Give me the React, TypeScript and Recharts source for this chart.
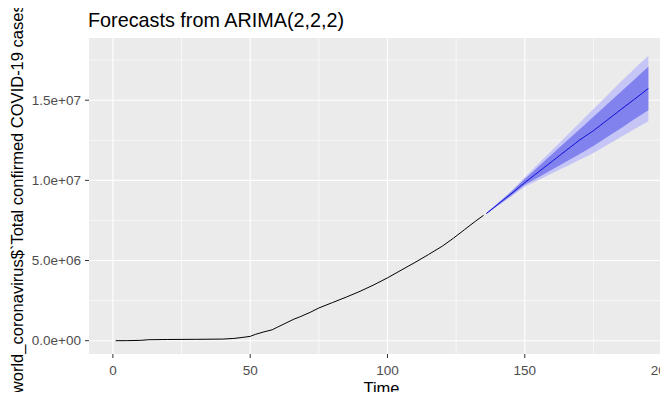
import {
  ComposedChart,
  Line,
  Area,
  XAxis,
  YAxis,
  CartesianGrid,
} from "recharts";

// ARIMA(2,2,2) forecast of world confirmed cases, styled after ggplot's autoplot

const FONT = '"Liberation Sans", Arial, sans-serif';

// observed series
const histTime = [1, 5, 10, 13, 20, 30, 40, 44, 47, 50, 52, 55, 58, 60, 63, 66, 68, 72, 75, 80, 85, 90, 95, 100, 105, 110, 115, 120, 124, 128, 132, 135];
const histCases = [
  0.0006e6, 0.003e6, 0.02e6, 0.06e6, 0.075e6, 0.085e6, 0.1e6, 0.14e6, 0.2e6, 0.27e6,
  0.4e6, 0.55e6, 0.68e6, 0.85e6, 1.1e6, 1.35e6, 1.48e6, 1.78e6, 2.04e6, 2.38e6,
  2.72e6, 3.08e6, 3.48e6, 3.92e6, 4.4e6, 4.88e6, 5.38e6, 5.9e6, 6.39e6, 6.92e6,
  7.45e6, 7.82e6,
];

// forecast, point + 80% / 95% intervals
const fcTime = [136, 140, 145, 150, 155, 160, 165, 170, 175, 180, 185, 190, 195];
const fcMean = [7.93e6, 8.48e6, 9.16e6, 9.86e6, 10.53e6, 11.19e6, 11.86e6, 12.52e6, 13.1e6, 13.76e6, 14.42e6, 15.07e6, 15.73e6];
const lo80 = [7.91e6, 8.42e6, 9.04e6, 9.72e6, 10.2e6, 10.68e6, 11.16e6, 11.65e6, 12.15e6, 12.7e6, 13.25e6, 13.82e6, 14.38e6];
const hi80 = [7.95e6, 8.54e6, 9.27e6, 10.08e6, 10.86e6, 11.64e6, 12.42e6, 13.19e6, 13.97e6, 14.75e6, 15.53e6, 16.3e6, 17.08e6];
const lo95 = [7.9e6, 8.38e6, 8.98e6, 9.6e6, 10.02e6, 10.44e6, 10.86e6, 11.28e6, 11.7e6, 12.2e6, 12.7e6, 13.2e6, 13.68e6];
const hi95 = [7.96e6, 8.57e6, 9.33e6, 10.2e6, 11.05e6, 11.9e6, 12.75e6, 13.6e6, 14.45e6, 15.3e6, 16.15e6, 16.97e6, 17.78e6];

const xTicks = [0, 50, 100, 150, 200];
const xMinor = [25, 75, 125, 175];
const yTicks = [0, 5e6, 1e7, 1.5e7];
const yMinor = [2.5e6, 7.5e6, 1.25e7, 1.75e7];

const data = [
  ...histTime.map((t, i) => ({ t, cases: histCases[i] })),
  ...fcTime.map((t, i) => ({
    t,
    mean: fcMean[i],
    band80: [lo80[i], hi80[i]],
    band95: [lo95[i], hi95[i]],
  })),
];

// R style scientific labels: 5.0e+06
const sci = (v: number) => {
  const [m, e] = v.toExponential(1).split("e");
  const n = parseInt(e, 10);
  return `${m}e${n < 0 ? "-" : "+"}${String(Math.abs(n)).padStart(2, "0")}`;
};

const tickStyle = { fontSize: 13.5, fill: "#4D4D4D", fontFamily: FONT };

export default function App() {
  return (
    <div
      style={{
        margin: -8,
        width: 668,
        height: 400,
        overflow: "hidden",
        position: "relative",
        background: "#fff",
      }}
    >
      <div
        style={{
          position: "absolute",
          left: 88,
          top: 11,
          fontFamily: FONT,
          fontSize: 19.8,
          lineHeight: "19px",
          color: "#000",
          whiteSpace: "nowrap",
        }}
      >
        Forecasts from ARIMA(2,2,2)
      </div>
      <ComposedChart
        width={680}
        height={400}
        data={data}
        margin={{ top: 38, right: 5, bottom: 0, left: 0 }}
      >
        <CartesianGrid
          fill="#EBEBEB"
          stroke="#FFFFFF"
          strokeWidth={0.6}
          horizontalValues={yMinor}
          verticalValues={xMinor}
        />
        <CartesianGrid
          stroke="#FFFFFF"
          strokeWidth={1.1}
          horizontalValues={yTicks}
          verticalValues={xTicks}
        />
        <XAxis
          dataKey="t"
          type="number"
          domain={[-8.7, 204.7]}
          allowDataOverflow
          ticks={xTicks}
          interval={0}
          height={46}
          axisLine={false}
          tickLine={{ stroke: "#333333" }}
          tickSize={4}
          tickMargin={7}
          tick={tickStyle}
          label={{
            content: () => (
              <text
                x={381.5}
                y={394}
                textAnchor="middle"
                fontSize={16.5}
                fill="#000"
                fontFamily={FONT}
              >
                Time
              </text>
            ),
          }}
        />
        <YAxis
          type="number"
          domain={[-0.83e6, 18.88e6]}
          allowDataOverflow
          ticks={yTicks}
          interval={0}
          width={89}
          axisLine={false}
          tickLine={{ stroke: "#333333" }}
          tickSize={4}
          tickMargin={4}
          tick={tickStyle}
          tickFormatter={sci}
          label={{
            content: () => (
              <text
                x={23}
                y={196}
                transform="rotate(-90 23 196)"
                textAnchor="middle"
                fontSize={16.5}
                fill="#000"
                fontFamily={FONT}
              >
                world_coronavirus$`Total confirmed COVID-19 cases`
              </text>
            ),
          }}
        />
        <Area
          dataKey="band95"
          stroke="none"
          fill="#C5C5F6"
          fillOpacity={1}
          isAnimationActive={false}
        />
        <Area
          dataKey="band80"
          stroke="none"
          fill="#8282EF"
          fillOpacity={1}
          isAnimationActive={false}
        />
        <Line
          dataKey="cases"
          stroke="#000000"
          strokeWidth={1}
          dot={false}
          isAnimationActive={false}
        />
        <Line
          dataKey="mean"
          stroke="#1010D8"
          strokeWidth={1}
          dot={false}
          isAnimationActive={false}
        />
      </ComposedChart>
    </div>
  );
}
